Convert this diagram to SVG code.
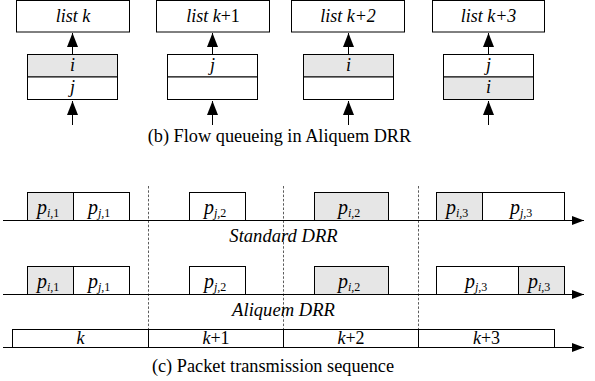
<svg xmlns="http://www.w3.org/2000/svg" width="595" height="381" viewBox="0 0 595 381">
<style>
.b{fill:#fff;stroke:#000;stroke-width:1}
.g{fill:#e6e6e6;stroke:#000;stroke-width:1}
.t{font-family:'Liberation Serif','Times New Roman',serif;font-size:18px;fill:#000}
.i{font-style:italic}
.c{text-anchor:middle}
.p{font-size:20px}
.s{font-size:12px}
.ln{stroke:#000;stroke-width:1;fill:none}
.d{stroke:#333;stroke-width:0.8;stroke-dasharray:2.5,1.8;fill:none}
</style>
<defs>
<marker id="ah" markerWidth="15" markerHeight="11" refX="14" refY="5.5" orient="auto" markerUnits="userSpaceOnUse" viewBox="0 0 15 11">
<path d="M0,0 L14,5.5 L0,11 Z" fill="#000"/>
</marker>
<marker id="ar" markerWidth="12" markerHeight="9" refX="12" refY="4.5" orient="auto" markerUnits="userSpaceOnUse" viewBox="0 0 12 9">
<path d="M0,0 L12,4.5 L0,9 Z" fill="#000"/>
</marker>
</defs>

<g id="list-k">
<rect class="b" x="16.5" y="0.5" width="113" height="31.5"/>
<text class="t i c" x="73" y="22">list k</text>
<rect class="g" x="27.5" y="54.5" width="90" height="22.5"/>
<rect class="b" x="27.5" y="77" width="90" height="22.5"/>
<text class="t i c" x="72.5" y="71">i</text>
<text class="t i c" x="72.5" y="93">j</text>
</g>
<g id="list-k1">
<rect class="b" x="156.5" y="0.5" width="113" height="31.5"/>
<text class="t i c" x="213" y="22">list k<tspan font-style="normal">+1</tspan></text>
<rect class="b" x="167.5" y="54.5" width="90" height="22.5"/>
<rect class="b" x="167.5" y="77" width="90" height="22.5"/>
<text class="t i c" x="212.5" y="71">j</text>
</g>
<g id="list-k2">
<rect class="b" x="291.5" y="0.5" width="113" height="31.5"/>
<text class="t i c" x="348" y="22">list k+2</text>
<rect class="g" x="303.5" y="54.5" width="90" height="22.5"/>
<rect class="b" x="303.5" y="77" width="90" height="22.5"/>
<text class="t i c" x="348.5" y="71">i</text>
</g>
<g id="list-k3">
<rect class="b" x="432.5" y="0.5" width="112" height="31.5"/>
<text class="t i c" x="488.5" y="22">list k+3</text>
<rect class="b" x="443.5" y="54.5" width="90" height="22.5"/>
<rect class="g" x="443.5" y="77" width="90" height="22.5"/>
<text class="t i c" x="488.5" y="71">j</text>
<text class="t i c" x="488.5" y="93">i</text>
</g>

<g id="connectors">
<line class="ln" x1="72.5" y1="54" x2="72.5" y2="33" marker-end="url(#ah)"/>
<line class="ln" x1="212.5" y1="54" x2="212.5" y2="33" marker-end="url(#ah)"/>
<line class="ln" x1="348.5" y1="54" x2="348.5" y2="33" marker-end="url(#ah)"/>
<line class="ln" x1="488.5" y1="54" x2="488.5" y2="33" marker-end="url(#ah)"/>
<line class="ln" x1="72.5" y1="125" x2="72.5" y2="101" marker-end="url(#ah)"/>
<line class="ln" x1="212.5" y1="125" x2="212.5" y2="101" marker-end="url(#ah)"/>
<line class="ln" x1="348.5" y1="125" x2="348.5" y2="101" marker-end="url(#ah)"/>
<line class="ln" x1="488.5" y1="125" x2="488.5" y2="101" marker-end="url(#ah)"/>
</g>

<text class="t c" x="279.5" y="142" style="font-size:18.3px">(b) Flow queueing in Aliquem DRR</text>

<g id="dividers">
<line class="d" x1="148.5" y1="186" x2="148.5" y2="329"/>
<line class="d" x1="283.5" y1="186" x2="283.5" y2="329"/>
<line class="d" x1="418.5" y1="186" x2="418.5" y2="329"/>
</g>

<g id="standard-drr">
<line class="ln" x1="3" y1="220.5" x2="584" y2="220.5" marker-end="url(#ar)"/>
<rect class="g" x="27.5" y="192.5" width="46" height="28"/>
<rect class="b" x="73.5" y="192.5" width="56" height="28"/>
<rect class="b" x="189.5" y="192.5" width="56" height="28"/>
<rect class="g" x="314.5" y="192.5" width="74" height="28"/>
<rect class="g" x="436.5" y="192.5" width="46" height="28"/>
<rect class="b" x="482.5" y="192.5" width="82" height="28"/>
<text class="t i p" x="37" y="214">p<tspan class="s" dy="3">i,</tspan><tspan class="s" font-style="normal">1</tspan></text>
<text class="t i p" x="88" y="214">p<tspan class="s" dy="3">j,</tspan><tspan class="s" font-style="normal">1</tspan></text>
<text class="t i p" x="204" y="214">p<tspan class="s" dy="3">j,</tspan><tspan class="s" font-style="normal">2</tspan></text>
<text class="t i p" x="338" y="214">p<tspan class="s" dy="3">i,</tspan><tspan class="s" font-style="normal">2</tspan></text>
<text class="t i p" x="446" y="214">p<tspan class="s" dy="3">i,</tspan><tspan class="s" font-style="normal">3</tspan></text>
<text class="t i p" x="510" y="214">p<tspan class="s" dy="3">j,</tspan><tspan class="s" font-style="normal">3</tspan></text>
<text class="t i c" x="283.5" y="242" style="font-size:18.6px">Standard DRR</text>
</g>

<g id="aliquem-drr">
<line class="ln" x1="3" y1="294.5" x2="584" y2="294.5" marker-end="url(#ar)"/>
<rect class="g" x="27.5" y="266.5" width="46" height="28"/>
<rect class="b" x="73.5" y="266.5" width="56" height="28"/>
<rect class="b" x="189.5" y="266.5" width="56" height="28"/>
<rect class="g" x="314.5" y="266.5" width="74" height="28"/>
<rect class="b" x="436.5" y="266.5" width="82" height="28"/>
<rect class="g" x="518.5" y="266.5" width="46" height="28"/>
<text class="t i p" x="37" y="288">p<tspan class="s" dy="3">i,</tspan><tspan class="s" font-style="normal">1</tspan></text>
<text class="t i p" x="88" y="288">p<tspan class="s" dy="3">j,</tspan><tspan class="s" font-style="normal">1</tspan></text>
<text class="t i p" x="204" y="288">p<tspan class="s" dy="3">j,</tspan><tspan class="s" font-style="normal">2</tspan></text>
<text class="t i p" x="338" y="288">p<tspan class="s" dy="3">i,</tspan><tspan class="s" font-style="normal">2</tspan></text>
<text class="t i p" x="465" y="288">p<tspan class="s" dy="3">j,</tspan><tspan class="s" font-style="normal">3</tspan></text>
<text class="t i p" x="528" y="288">p<tspan class="s" dy="3">i,</tspan><tspan class="s" font-style="normal">3</tspan></text>
<text class="t i c" x="283.5" y="316" style="font-size:18.6px">Aliquem DRR</text>
</g>

<g id="sequence">
<line class="ln" x1="3" y1="347.5" x2="584" y2="347.5" marker-end="url(#ar)"/>
<rect class="b" x="12.5" y="329.5" width="136" height="18"/>
<rect class="b" x="148.5" y="329.5" width="135" height="18"/>
<rect class="b" x="283.5" y="329.5" width="135" height="18"/>
<rect class="b" x="418.5" y="329.5" width="136" height="18"/>
<text class="t i c" x="80.5" y="344">k</text>
<text class="t c" x="216" y="344"><tspan font-style="italic">k</tspan>+1</text>
<text class="t c" x="351" y="344"><tspan font-style="italic">k</tspan>+2</text>
<text class="t c" x="486.5" y="344"><tspan font-style="italic">k</tspan>+3</text>
</g>

<text class="t c" x="273" y="372" style="font-size:18.3px">(c) Packet transmission sequence</text>
</svg>
